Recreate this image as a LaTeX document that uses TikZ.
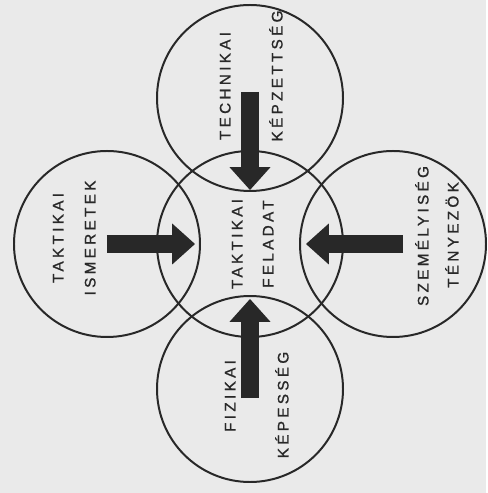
\documentclass[tikz,border=0pt]{standalone}
\usepackage{fontspec}
\setmainfont{Liberation Sans}
\newfontfamily\feliratfont{Liberation Sans}[LetterSpace=22,FakeBold=1.2]
\usepackage{tikz}
\usetikzlibrary{positioning}
\usetikzlibrary{arrows.meta}
\usepackage{xcolor}
\definecolor{inkgray}{RGB}{40,40,40}
\definecolor{papergray}{RGB}{234,234,234}
\tikzset{%
  kor/.style={circle,draw=inkgray,line width=1.7pt,minimum size=5.58cm,inner sep=0pt},
  felirat/.style={rotate=90,text=inkgray,inner sep=0pt,text height=9.3pt,text depth=0pt,
    font=\feliratfont\fontsize{13}{15}\selectfont},
  nyil/.style={draw=inkgray,line width=16pt,
    -{Triangle[width=35pt,length=19.5pt,line width=0pt]}}
}

\begin{document}
\begin{tikzpicture}
  % paper background fixes the margins
  \fill[papergray] (-7.5,7.32) rectangle (7.08,-7.47);
  \node[kor] (feladat) at (0,0) {};
  \node[kor, on grid, above=4.38cm of feladat] (technika) {};
  \node[kor, on grid, left=4.29cm of feladat] (ismeret) {};
  \node[kor, on grid, right=4.29cm of feladat] (szemely) {};
  \node[kor, on grid, below=4.35cm of feladat] (fizikum) {};

  \node[felirat, on grid, left=0.39cm of feladat] (feladat1) {TAKTIKAI};
  \node[felirat, on grid, right=0.54cm of feladat] (feladat2) {FELADAT};
  \node[felirat, on grid, above left=0.36cm and 0.75cm of technika] (technika1) {TECHNIKAI};
  \node[felirat, on grid, above right=0.66cm and 0.81cm of technika] (technika2) {KÉPZETTSÉG};
  \node[felirat, on grid, above left=0.18cm and 1.47cm of ismeret] (ismeret1) {TAKTIKAI};
  \node[felirat, on grid, above left=0.18cm and 0.51cm of ismeret] (ismeret2) {ISMERETEK};
  \node[felirat, on grid, above right=0.24cm and 0.90cm of szemely] (szemely1) {SZEMÉLYISÉG};
  \node[felirat, on grid, above right=0.27cm and 1.80cm of szemely] (szemely2) {TÉNYEZÖK};
  \node[felirat, on grid, below left=0.21cm and 0.60cm of fizikum] (fizikum1) {FIZIKAI};
  \node[felirat, on grid, below right=0.48cm and 0.99cm of fizikum] (fizikum2) {KÉPESSÉG};

  % Add block arrows towards the middle
  \draw[nyil] ([yshift=0.18cm]technika.center) -- ([yshift=0.06cm]technika.south);
  \draw[nyil] (ismeret.center) -- ([xshift=-0.18cm]ismeret.east);
  \draw[nyil] ([xshift=0.30cm]szemely.center) -- ([xshift=0.21cm]szemely.west);
  \draw[nyil] ([yshift=-0.27cm]fizikum.center) -- ([yshift=-0.12cm]fizikum.north);
\end{tikzpicture}
\end{document}
